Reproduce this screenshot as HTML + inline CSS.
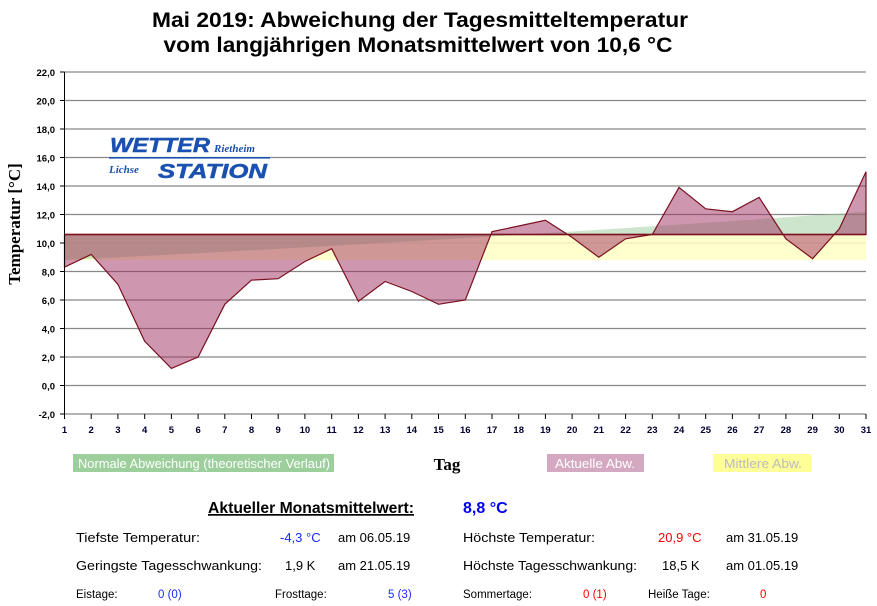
<!DOCTYPE html>
<html><head><meta charset="utf-8"><style>
html,body{margin:0;padding:0;background:#fff;}
svg{display:block;}
text{font-family:"Liberation Sans",Arial,sans-serif;}
</style></head><body>
<svg width="877" height="606" viewBox="0 0 877 606" xmlns="http://www.w3.org/2000/svg">
<rect width="877" height="606" fill="#fff"/>
<text x="420" y="27" text-anchor="middle" font-size="21" font-weight="bold" textLength="536" lengthAdjust="spacingAndGlyphs">Mai 2019: Abweichung der Tagesmitteltemperatur</text>
<text x="418" y="52" text-anchor="middle" font-size="21" font-weight="bold" textLength="509" lengthAdjust="spacingAndGlyphs">vom langjährigen Monatsmittelwert von 10,6 °C</text>

<!-- grid -->
<g stroke="#888" stroke-width="1.2">
<line x1="64" x2="866" y1="72" y2="72"/><line x1="64" x2="866" y1="100.5" y2="100.5"/>
<line x1="64" x2="866" y1="129" y2="129"/><line x1="64" x2="866" y1="157.5" y2="157.5"/>
<line x1="64" x2="866" y1="186" y2="186"/><line x1="64" x2="866" y1="214.5" y2="214.5"/>
<line x1="64" x2="866" y1="243" y2="243"/><line x1="64" x2="866" y1="271.5" y2="271.5"/>
<line x1="64" x2="866" y1="300" y2="300"/><line x1="64" x2="866" y1="328.5" y2="328.5"/>
<line x1="64" x2="866" y1="357" y2="357"/><line x1="64" x2="866" y1="385.5" y2="385.5"/>
<line x1="64" x2="866" y1="414" y2="414"/>
</g>

<!-- yellow -->
<rect x="64.5" y="234.5" width="801.5" height="25.6" fill="#ffffc4" opacity="0.85"/>
<!-- green -->
<path d="M64.5,260 Q470,240 866,211.6 L866,234.5 L64.5,234.5 Z" fill="#9ccc9c" opacity="0.5"/>
<!-- actual -->
<polygon fill="#a0305f" fill-opacity="0.5" stroke="#7a1020" stroke-width="1.2" points="64.5,234.5 64.5,267.2 91.2,254.4 117.9,284.3 144.7,341.3 171.4,368.4 198.1,357 224.8,304.3 251.5,280.1 278.2,278.7 304.9,261.5 331.7,248.7 358.4,301.4 385.1,281.5 411.8,291.5 438.5,304.3 465.3,300 492,231.7 518.7,226 545.4,220.3 572.1,237.4 598.8,257.3 625.6,238.8 652.3,234.5 679,187.4 705.7,208.8 732.4,211.7 759.1,197.4 785.9,238.8 812.6,258.7 839.3,228.8 866,171.75 866,234.5"/>
<line x1="64.5" x2="866" y1="234.5" y2="234.5" stroke="#7a1020" stroke-width="1.5"/>

<!-- axes -->
<line x1="64.5" x2="64.5" y1="72" y2="418" stroke="#000"/>
<g stroke="#000">
<line x1="60" x2="64.5" y1="72" y2="72"/><line x1="60" x2="64.5" y1="100.5" y2="100.5"/><line x1="60" x2="64.5" y1="129" y2="129"/><line x1="60" x2="64.5" y1="157.5" y2="157.5"/><line x1="60" x2="64.5" y1="186" y2="186"/><line x1="60" x2="64.5" y1="214.5" y2="214.5"/><line x1="60" x2="64.5" y1="243" y2="243"/><line x1="60" x2="64.5" y1="271.5" y2="271.5"/><line x1="60" x2="64.5" y1="300" y2="300"/><line x1="60" x2="64.5" y1="328.5" y2="328.5"/><line x1="60" x2="64.5" y1="357" y2="357"/><line x1="60" x2="64.5" y1="385.5" y2="385.5"/><line x1="60" x2="64.5" y1="414" y2="414"/>
</g>
<g font-size="9.5" font-weight="bold" text-anchor="end" fill="#000">
<text x="55" y="76">22,0</text><text x="55" y="104.5">20,0</text><text x="55" y="133">18,0</text><text x="55" y="161.5">16,0</text><text x="55" y="190">14,0</text><text x="55" y="218.5">12,0</text><text x="55" y="247">10,0</text><text x="55" y="275.5">8,0</text><text x="55" y="304">6,0</text><text x="55" y="332.5">4,0</text><text x="55" y="361">2,0</text><text x="55" y="389.5">0,0</text><text x="55" y="418">-2,0</text>
</g>
<g stroke="#000" id="ticks">
<path d="M64.5,414v5M91.2,414v5M117.9,414v5M144.7,414v5M171.4,414v5M198.1,414v5M224.8,414v5M251.5,414v5M278.2,414v5M304.9,414v5M331.7,414v5M358.4,414v5M385.1,414v5M411.8,414v5M438.5,414v5M465.3,414v5M492,414v5M518.7,414v5M545.4,414v5M572.1,414v5M598.8,414v5M625.6,414v5M652.3,414v5M679,414v5M705.7,414v5M732.4,414v5M759.1,414v5M785.9,414v5M812.6,414v5M839.3,414v5M866,414v5"/>
</g>
<g font-size="9.5" font-weight="bold" text-anchor="middle" fill="#003">
<text x="64.5" y="433">1</text><text x="91.2" y="433">2</text><text x="117.9" y="433">3</text><text x="144.7" y="433">4</text><text x="171.4" y="433">5</text><text x="198.1" y="433">6</text><text x="224.8" y="433">7</text><text x="251.5" y="433">8</text><text x="278.2" y="433">9</text><text x="304.9" y="433">10</text><text x="331.7" y="433">11</text><text x="358.4" y="433">12</text><text x="385.1" y="433">13</text><text x="411.8" y="433">14</text><text x="438.5" y="433">15</text><text x="465.3" y="433">16</text><text x="492" y="433">17</text><text x="518.7" y="433">18</text><text x="545.4" y="433">19</text><text x="572.1" y="433">20</text><text x="598.8" y="433">21</text><text x="625.6" y="433">22</text><text x="652.3" y="433">23</text><text x="679" y="433">24</text><text x="705.7" y="433">25</text><text x="732.4" y="433">26</text><text x="759.1" y="433">27</text><text x="785.9" y="433">28</text><text x="812.6" y="433">29</text><text x="839.3" y="433">30</text><text x="866" y="433">31</text>
</g>
<text transform="translate(20,224) rotate(-90)" text-anchor="middle" font-family="Liberation Serif,serif" font-size="17" font-weight="bold" style="font-family:'Liberation Serif',serif">Temperatur [°C]</text>

<!-- logo -->
<g fill="#1a50b0" font-style="italic" font-weight="bold">
<text x="110" y="152" font-size="20" textLength="100" lengthAdjust="spacingAndGlyphs" stroke="#1a50b0" stroke-width="0.5">WETTER</text>
<text x="214" y="152" font-size="11" style="font-family:'Liberation Serif',serif">Rietheim</text>
<rect x="109" y="157" width="161" height="1.6"/>
<text x="109" y="173" font-size="11" style="font-family:'Liberation Serif',serif">Lichse</text>
<text x="158" y="178" font-size="20" textLength="109" lengthAdjust="spacingAndGlyphs" stroke="#1a50b0" stroke-width="0.5">STATION</text>
</g>

<!-- legend -->
<rect x="73" y="454" width="261" height="18" fill="#9ccf9c"/>
<text x="78" y="468" font-size="13" fill="#fff" textLength="252" lengthAdjust="spacingAndGlyphs">Normale Abweichung (theoretischer Verlauf)</text>
<text x="447" y="470" text-anchor="middle" font-size="17" font-weight="bold" style="font-family:'Liberation Serif',serif">Tag</text>
<rect x="547" y="454" width="97" height="18" fill="#d4a8c0"/>
<text x="555" y="468" font-size="13" fill="#fff" textLength="80" lengthAdjust="spacingAndGlyphs">Aktuelle Abw.</text>
<rect x="713" y="454" width="98" height="18" fill="#ffff99"/>
<text x="724" y="468" font-size="13" fill="#bbb" textLength="78" lengthAdjust="spacingAndGlyphs">Mittlere Abw.</text>

<!-- stats -->
<text x="208" y="513" font-size="16" font-weight="bold" text-decoration="underline" textLength="206" lengthAdjust="spacingAndGlyphs">Aktueller Monatsmittelwert:</text>
<line x1="208" x2="414" y1="515" y2="515" stroke="#000" stroke-width="1.3"/>
<text x="463" y="513" font-size="16" font-weight="bold" fill="#0000ee">8,8 °C</text>

<g font-size="13">
<text x="76" y="542" textLength="124" lengthAdjust="spacingAndGlyphs">Tiefste Temperatur:</text>
<text x="280" y="542" fill="#1a2aff">-4,3 °C</text>
<text x="338" y="542">am 06.05.19</text>
<text x="463" y="542" textLength="132" lengthAdjust="spacingAndGlyphs">Höchste Temperatur:</text>
<text x="658" y="542" fill="#ff0000">20,9 °C</text>
<text x="726" y="542">am 31.05.19</text>

<text x="76" y="570" textLength="186" lengthAdjust="spacingAndGlyphs">Geringste Tagesschwankung:</text>
<text x="285" y="570">1,9 K</text>
<text x="338" y="570">am 21.05.19</text>
<text x="463" y="570" textLength="174" lengthAdjust="spacingAndGlyphs">Höchste Tagesschwankung:</text>
<text x="662" y="570">18,5 K</text>
<text x="726" y="570">am 01.05.19</text>
</g>
<g font-size="11.5">
<text x="76" y="598">Eistage:</text>
<text x="158" y="598" fill="#1a2aff">0 (0)</text>
<text x="275" y="598">Frosttage:</text>
<text x="388" y="598" fill="#1a2aff">5 (3)</text>
<text x="463" y="598">Sommertage:</text>
<text x="583" y="598" fill="#ff0000">0 (1)</text>
<text x="648" y="598">Heiße Tage:</text>
<text x="760" y="598" fill="#ff0000">0</text>
</g>
</svg>
</body></html>
